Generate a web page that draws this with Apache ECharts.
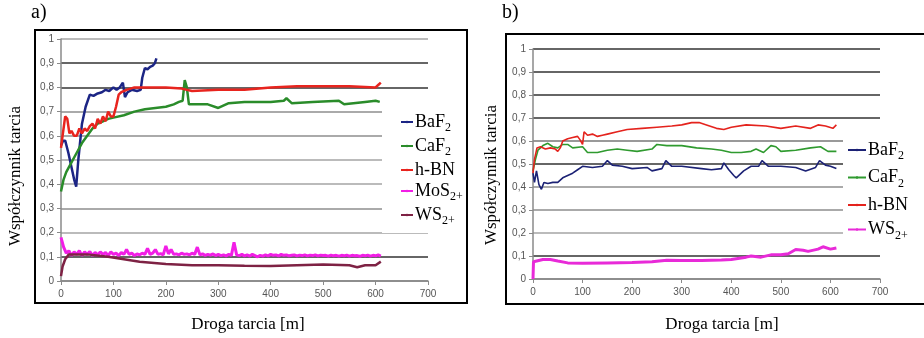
<!DOCTYPE html>
<html>
<head>
<meta charset="utf-8">
<script src="https://cdn.jsdelivr.net/npm/echarts@6/dist/echarts.min.js"></script>
<style>
  html, body { margin: 0; padding: 0; background: #fff; }
  #chart { width: 924px; height: 338px; }
</style>
</head>
<body>
<div id="chart"></div>
<script>
// wykres a) i b): współczynnik tarcia w funkcji drogi tarcia
const xTicks = [0, 100, 200, 300, 400, 500, 600, 700];
const yTicks = [0, 0.1, 0.2, 0.3, 0.4, 0.5, 0.6, 0.7, 0.8, 0.9, 1];

// --- a) ---
const baf2A_x = [0, 4, 8, 14, 20, 25, 29, 33, 40, 47, 55, 62, 70, 78, 85, 92, 100, 106, 112, 118, 122, 127, 135, 145, 152, 155, 160, 165, 170, 175, 179, 182];
const baf2A_y = [0.56, 0.58, 0.58, 0.53, 0.47, 0.42, 0.39, 0.5, 0.65, 0.72, 0.77, 0.765, 0.775, 0.78, 0.79, 0.785, 0.8, 0.79, 0.8, 0.82, 0.76, 0.78, 0.79, 0.785, 0.79, 0.84, 0.88, 0.875, 0.885, 0.89, 0.9, 0.92];

const cafA_x = [0, 5, 10, 20, 30, 40, 50, 60, 70, 80, 90, 100, 120, 140, 160, 180, 200, 215, 225, 232, 236, 240, 244, 260, 280, 300, 320, 350, 400, 425, 430, 440, 480, 530, 540, 580, 600, 608];
const cafA_y = [0.37, 0.42, 0.45, 0.49, 0.53, 0.57, 0.6, 0.63, 0.65, 0.66, 0.67, 0.675, 0.685, 0.7, 0.71, 0.715, 0.72, 0.73, 0.74, 0.745, 0.83, 0.8, 0.73, 0.73, 0.73, 0.715, 0.735, 0.74, 0.74, 0.745, 0.755, 0.735, 0.74, 0.745, 0.73, 0.74, 0.745, 0.74];

const hbnA_x = [0, 3, 8, 12, 16, 20, 25, 30, 35, 40, 45, 50, 55, 60, 65, 70, 75, 80, 85, 90, 95, 100, 105, 110, 115, 125, 140, 160, 200, 230, 250, 300, 350, 400, 450, 500, 550, 600, 605, 610];
const hbnA_y = [0.55, 0.6, 0.68, 0.67, 0.61, 0.62, 0.6, 0.6, 0.63, 0.61, 0.63, 0.62, 0.64, 0.65, 0.63, 0.67, 0.65, 0.68, 0.66, 0.7, 0.68, 0.68, 0.72, 0.77, 0.78, 0.79, 0.8, 0.8, 0.8, 0.795, 0.785, 0.79, 0.79, 0.8, 0.805, 0.805, 0.805, 0.8, 0.81, 0.82];

// MoS2+: próbki co 5 m
const mos2Step = 5;
const mos2A_y = [0.18, 0.14, 0.115, 0.125, 0.105, 0.12, 0.11, 0.125, 0.105, 0.12, 0.11, 0.122, 0.105, 0.118, 0.108, 0.12, 0.11, 0.118, 0.105, 0.12,
  0.11, 0.115, 0.105, 0.118, 0.11, 0.13, 0.11, 0.115, 0.105, 0.112, 0.108, 0.115, 0.11, 0.135, 0.11, 0.115, 0.13, 0.11, 0.113, 0.108,
  0.145, 0.112, 0.13, 0.11, 0.112, 0.108, 0.115, 0.11, 0.112, 0.108, 0.115, 0.11, 0.14, 0.108, 0.112, 0.106, 0.11, 0.107, 0.112, 0.105,
  0.11, 0.105, 0.108, 0.104, 0.11, 0.106, 0.16, 0.108, 0.105, 0.11, 0.104, 0.108, 0.103, 0.11, 0.105, 0.1, 0.106, 0.103, 0.108, 0.104,
  0.11, 0.106, 0.108, 0.104, 0.11, 0.106, 0.108, 0.104, 0.106, 0.108, 0.104, 0.107, 0.105, 0.108, 0.104, 0.107, 0.105, 0.108, 0.104, 0.107,
  0.105, 0.106, 0.103, 0.107, 0.104, 0.106, 0.103, 0.106, 0.104, 0.107, 0.103, 0.106, 0.104, 0.105, 0.102, 0.106, 0.104, 0.107, 0.103, 0.106,
  0.104, 0.108, 0.103];

const ws2A_x = [0, 3, 8, 15, 50, 90, 120, 150, 200, 250, 300, 350, 400, 450, 500, 550, 565, 580, 600, 610];
const ws2A_y = [0.02, 0.06, 0.09, 0.11, 0.11, 0.1, 0.09, 0.08, 0.07, 0.065, 0.065, 0.063, 0.062, 0.065, 0.068, 0.065, 0.057, 0.065, 0.065, 0.08];

// --- b) ---
const baf2B_x = [0, 3, 7, 12, 17, 22, 30, 40, 50, 60, 70, 80, 90, 100, 120, 140, 150, 160, 180, 200, 230, 240, 260, 268, 280, 300, 340, 360, 380, 385, 395, 405, 410, 425, 440, 455, 462, 475, 500, 530, 550, 570, 578, 590, 600, 612];
const baf2B_y = [0.46, 0.42, 0.47, 0.41, 0.39, 0.42, 0.415, 0.42, 0.42, 0.44, 0.45, 0.46, 0.475, 0.49, 0.485, 0.49, 0.515, 0.495, 0.49, 0.48, 0.485, 0.47, 0.48, 0.515, 0.49, 0.49, 0.48, 0.475, 0.48, 0.505, 0.475, 0.45, 0.44, 0.47, 0.49, 0.49, 0.515, 0.49, 0.49, 0.485, 0.47, 0.485, 0.515, 0.495, 0.49, 0.48];

const cafB_x = [0, 5, 10, 20, 30, 40, 50, 60, 70, 80, 100, 110, 130, 150, 170, 190, 210, 240, 250, 270, 300, 330, 360, 380, 400, 420, 440, 450, 465, 480, 490, 500, 530, 560, 580, 595, 612];
const cafB_y = [0.47, 0.52, 0.56, 0.58, 0.59, 0.575, 0.57, 0.585, 0.585, 0.57, 0.575, 0.55, 0.55, 0.56, 0.565, 0.56, 0.555, 0.565, 0.585, 0.58, 0.58, 0.57, 0.565, 0.56, 0.55, 0.55, 0.555, 0.565, 0.55, 0.58, 0.575, 0.555, 0.56, 0.57, 0.575, 0.555, 0.555];

const hbnB_x = [0, 3, 8, 15, 25, 35, 45, 50, 55, 60, 70, 80, 90, 95, 100, 103, 110, 120, 130, 140, 150, 170, 190, 220, 250, 280, 300, 320, 335, 350, 370, 385, 400, 430, 470, 500, 530, 560, 575, 590, 605, 612];
const hbnB_y = [0.46, 0.52, 0.57, 0.575, 0.565, 0.57, 0.565, 0.555, 0.57, 0.6, 0.61, 0.615, 0.62, 0.605, 0.585, 0.64, 0.625, 0.63, 0.62, 0.625, 0.63, 0.64, 0.65, 0.655, 0.66, 0.665, 0.67, 0.68, 0.68, 0.67, 0.655, 0.65, 0.66, 0.67, 0.665, 0.655, 0.665, 0.655, 0.67, 0.665, 0.655, 0.67];

const ws2B_x = [0, 1, 20, 35, 50, 70, 100, 150, 200, 240, 270, 300, 340, 380, 400, 430, 440, 460, 480, 500, 515, 530, 545, 555, 575, 585, 600, 612];
const ws2B_y = [0, 0.075, 0.085, 0.085, 0.078, 0.07, 0.068, 0.07, 0.072, 0.075, 0.082, 0.08, 0.08, 0.083, 0.085, 0.095, 0.1, 0.095, 0.105, 0.105, 0.11, 0.128, 0.125, 0.12, 0.13, 0.14, 0.13, 0.135];

const legendA = ['a:BaF2', 'a:CaF2', 'a:h-BN', 'a:MoS2+', 'a:WS2+'];
const legendB = ['b:BaF2', 'b:CaF2', 'b:h-BN', 'b:WS2+'];

const serif = 'Liberation Serif';
const pairs = (xs, ys) => xs.map((x, i) => [x, ys[i]]);
const mos2A = mos2A_y.map((y, i) => [i * mos2Step, y]);

// nazwy z indeksem dolnym
const richName = (name) => {
  const n = name.slice(2);
  const m = n.match(/^([A-Za-z]+)(2\+?)$/);
  return m ? `{n|${m[1]}}{s|${m[2]}}` : `{n|${n}}`;
};
const rich = {
  n: { fontFamily: serif, fontSize: 18, color: '#000' },
  s: { fontFamily: serif, fontSize: 12, color: '#000', verticalAlign: 'bottom', padding: [0, 0, -3, 0] },
};

const tickFmt = (v) => String(Math.round(v * 10) / 10).replace('.', ',');

function makeX(gridIndex) {
  return {
    type: 'value', gridIndex, min: 0, max: 700, interval: 100,
    axisLine: { lineStyle: { color: '#8a8a8a', width: 1.5 } },
    axisTick: { show: true, length: 4, lineStyle: { color: '#8a8a8a' } },
    axisLabel: { fontFamily: 'Liberation Sans', fontSize: 10, color: '#555', margin: 8 },
    splitLine: { show: false },
  };
}
function makeY(gridIndex, lineColors) {
  return {
    type: 'value', gridIndex, min: 0, max: 1, interval: 0.1,
    axisLine: { show: true, lineStyle: { color: '#8a8a8a', width: 1.5 } },
    axisTick: { show: true, length: 4, lineStyle: { color: '#8a8a8a' } },
    axisLabel: { fontFamily: 'Liberation Sans', fontSize: 10, color: '#555', margin: 7, formatter: tickFmt },
    splitLine: { show: true, lineStyle: { color: lineColors, width: 2 } },
  };
}

function line(name, data, color, width, xi) {
  return {
    name, type: 'line', data, xAxisIndex: xi, yAxisIndex: xi,
    symbol: 'none', smooth: false, animation: false,
    lineStyle: { color, width }, itemStyle: { color },
  };
}

const chart = echarts.init(document.getElementById('chart'));
chart.setOption({
  animation: false,
  backgroundColor: '#fff',
  grid: [
    { left: 61, top: 39, width: 367, height: 242 },
    { left: 533, top: 49, width: 347, height: 230 },
  ],
  xAxis: [makeX(0), makeX(1)],
  yAxis: [
    makeY(0, ['#999', '#666', '#bbb', '#aaa', '#bbb', '#bbb', '#aaa', '#aaa', '#666', '#666', '#bbb']),
    makeY(1, ['#999', '#666', '#bbb', '#aaa', '#aaa', '#666', '#999', '#666', '#666', '#666', '#666']),
  ],
  legend: [
    {
      data: legendA, orient: 'vertical', left: 382, top: 109,
      padding: [4, 4, 6, 18], itemGap: 3, itemWidth: 12, itemHeight: 3,
      backgroundColor: '#fff', formatter: richName,
      textStyle: { rich, lineHeight: 18, padding: [0, 0, 0, -3] },
    },
    {
      data: legendB, orient: 'vertical', left: 843, top: 135,
      padding: [6, 0, 8, 4], itemGap: 6.5, itemWidth: 18, itemHeight: 3,
      backgroundColor: '#fff', formatter: richName,
      textStyle: { rich, lineHeight: 18, padding: [0, 0, 0, -3] },
    },
  ],
  series: [
    line('a:BaF2', pairs(baf2A_x, baf2A_y), '#1c2585', 2.5, 0),
    line('a:CaF2', pairs(cafA_x, cafA_y), '#2a8c2a', 2.5, 0),
    line('a:h-BN', pairs(hbnA_x, hbnA_y), '#e8241e', 2.5, 0),
    line('a:MoS2+', mos2A, '#f21ee6', 3, 0),
    line('a:WS2+', pairs(ws2A_x, ws2A_y), '#7e2244', 2.5, 0),
    line('b:BaF2', pairs(baf2B_x, baf2B_y), '#1c2275', 1.6, 1),
    line('b:CaF2', pairs(cafB_x, cafB_y), '#2f9a2f', 1.6, 1),
    line('b:h-BN', pairs(hbnB_x, hbnB_y), '#e4231d', 1.6, 1),
    line('b:WS2+', pairs(ws2B_x, ws2B_y), '#e82ad8', 3, 1),
  ],
  graphic: [
    { type: 'rect', shape: { x: 35, y: 30, width: 432, height: 273 }, style: { fill: 'none', stroke: '#000', lineWidth: 2 }, z: 100 },
    { type: 'rect', shape: { x: 506, y: 34, width: 430, height: 270 }, style: { fill: 'none', stroke: '#000', lineWidth: 2 }, z: 100 },
    { type: 'text', left: 31, top: 3, style: { text: 'a)', font: `20px "${serif}"`, fill: '#000' } },
    { type: 'text', left: 502, top: 3, style: { text: 'b)', font: `20px "${serif}"`, fill: '#000' } },
    { type: 'text', x: 16, y: 176, rotation: Math.PI / 2, style: { text: 'Współczynnik tarcia', font: `17px "${serif}"`, fill: '#000', align: 'center', verticalAlign: 'middle' } },
    { type: 'text', x: 492, y: 175, rotation: Math.PI / 2, style: { text: 'Współczynnik tarcia', font: `17px "${serif}"`, fill: '#000', align: 'center', verticalAlign: 'middle' } },
    { type: 'text', x: 248, y: 325, style: { text: 'Droga tarcia [m]', font: `17px "${serif}"`, fill: '#000', align: 'center', verticalAlign: 'middle' } },
    { type: 'text', x: 722, y: 325, style: { text: 'Droga tarcia [m]', font: `17px "${serif}"`, fill: '#000', align: 'center', verticalAlign: 'middle' } },
  ],
});
</script>
</body>
</html>
